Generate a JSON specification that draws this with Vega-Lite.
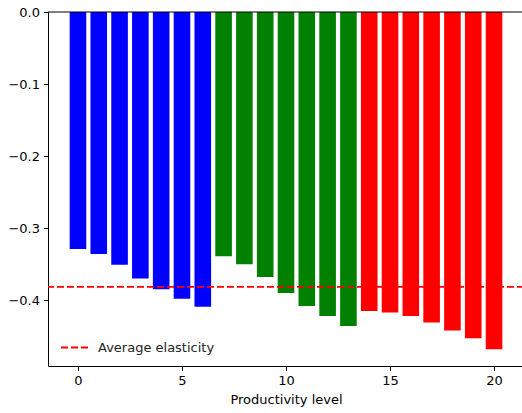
{
  "$schema": "https://vega.github.io/schema/vega-lite/v6.json",
  "autosize": "none",
  "width": 476,
  "height": 354,
  "padding": {"left": 48, "top": 12, "right": 0, "bottom": 47},
  "background": "white",
  "config": {
    "view": {"stroke": null},
    "font": "DejaVu Sans",
    "axis": {
      "grid": false,
      "domainColor": "black",
      "tickColor": "black",
      "labelColor": "black",
      "titleColor": "black",
      "labelFont": "DejaVu Sans",
      "titleFont": "DejaVu Sans",
      "labelFontSize": 13,
      "titleFontSize": 13,
      "titleFontWeight": "normal",
      "tickSize": 4.5,
      "domainWidth": 1,
      "tickWidth": 1,
      "labelPadding": 4
    }
  },
  "datasets": {
    "bars": [
      {"level": 0, "elasticity": -0.329, "group": "low"},
      {"level": 1, "elasticity": -0.336, "group": "low"},
      {"level": 2, "elasticity": -0.351, "group": "low"},
      {"level": 3, "elasticity": -0.370, "group": "low"},
      {"level": 4, "elasticity": -0.385, "group": "low"},
      {"level": 5, "elasticity": -0.398, "group": "low"},
      {"level": 6, "elasticity": -0.409, "group": "low"},
      {"level": 7, "elasticity": -0.339, "group": "mid"},
      {"level": 8, "elasticity": -0.350, "group": "mid"},
      {"level": 9, "elasticity": -0.368, "group": "mid"},
      {"level": 10, "elasticity": -0.390, "group": "mid"},
      {"level": 11, "elasticity": -0.408, "group": "mid"},
      {"level": 12, "elasticity": -0.422, "group": "mid"},
      {"level": 13, "elasticity": -0.436, "group": "mid"},
      {"level": 14, "elasticity": -0.415, "group": "high"},
      {"level": 15, "elasticity": -0.417, "group": "high"},
      {"level": 16, "elasticity": -0.422, "group": "high"},
      {"level": 17, "elasticity": -0.431, "group": "high"},
      {"level": 18, "elasticity": -0.442, "group": "high"},
      {"level": 19, "elasticity": -0.453, "group": "high"},
      {"level": 20, "elasticity": -0.468, "group": "high"}
    ]
  },
  "layer": [
    {
      "data": {"name": "bars"},
      "mark": {"type": "bar", "width": 16.6},
      "encoding": {
        "x": {
          "field": "level",
          "type": "quantitative",
          "scale": {"domain": [-1.44, 21.44], "nice": false, "zero": false, "padding": 0},
          "axis": {"values": [0, 5, 10, 15, 20], "title": "Productivity level", "format": "d", "titlePadding": 6}
        },
        "y": {
          "field": "elasticity",
          "type": "quantitative",
          "scale": {"domain": [-0.4914, 0], "nice": false, "padding": 0},
          "axis": {
            "values": [-0.4, -0.3, -0.2, -0.1, 0],
            "title": null,
            "format": ".1f",
            "labelExpr": "replace(datum.label, '-', '\u2212')"
          }
        },
        "fill": {
          "field": "group",
          "type": "nominal",
          "scale": {"domain": ["low", "mid", "high"], "range": ["#0000ff", "#008000", "#ff0000"]},
          "legend": null
        }
      }
    },
    {
      "data": {"values": [{"avg": -0.3817, "label": "Average elasticity"}]},
      "mark": {"type": "rule", "strokeWidth": 1.8, "strokeDash": [7, 3]},
      "encoding": {
        "y": {"field": "avg", "type": "quantitative"},
        "stroke": {
          "field": "label",
          "type": "nominal",
          "scale": {"range": ["#ff0000"]},
          "legend": {
            "title": null,
            "orient": "none",
            "legendX": 12,
            "legendY": 321,
            "symbolType": "stroke",
            "symbolSize": 729,
            "symbolStrokeWidth": 1.8,
            "symbolDash": [7, 3],
            "labelFontSize": 13,
            "labelFont": "DejaVu Sans",
            "labelColor": "#222222",
            "labelOffset": 9,
            "padding": 0
          }
        }
      }
    },
    {
      "data": {"values": [{"zero": 0}]},
      "mark": {"type": "rule", "color": "black", "strokeWidth": 1},
      "encoding": {"y": {"field": "zero", "type": "quantitative"}}
    }
  ]
}
